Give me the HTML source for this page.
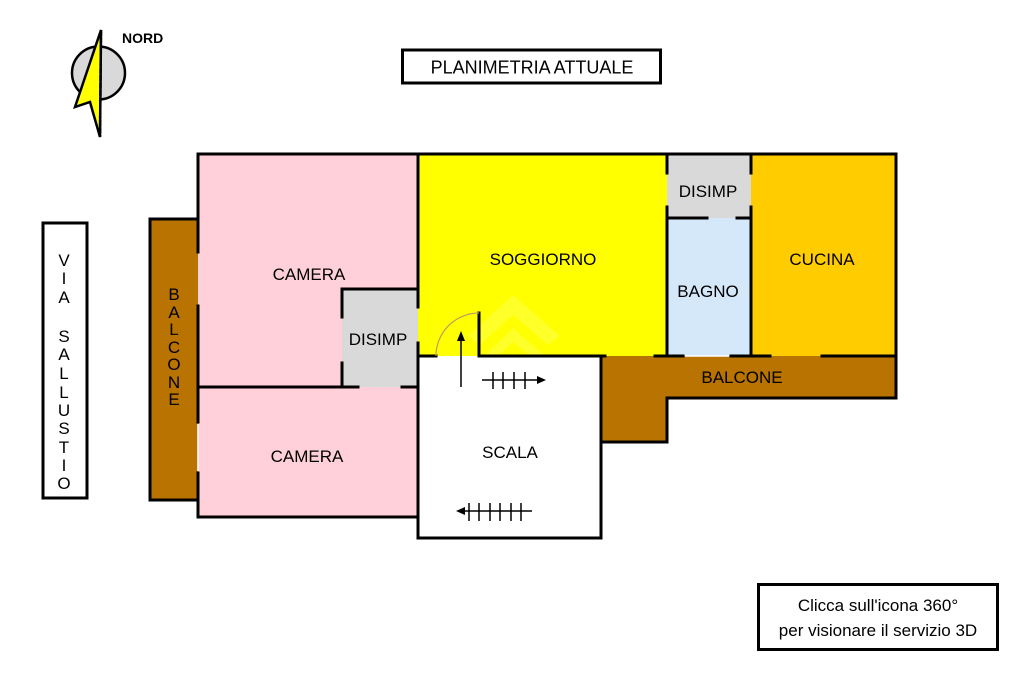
<!DOCTYPE html>
<html>
<head>
<meta charset="utf-8">
<style>
html,body{margin:0;padding:0;background:#fff;}
svg{display:block;}
text{font-family:"Liberation Sans",Arial,sans-serif;fill:#000;}
</style>
</head>
<body>
<svg width="1024" height="682" viewBox="0 0 1024 682" xmlns="http://www.w3.org/2000/svg">
<rect x="0" y="0" width="1024" height="682" fill="#fff"/>

<!-- Compass -->
<circle cx="98.5" cy="73" r="26.5" fill="#d9d9d9" stroke="#000" stroke-width="2.5"/>
<polygon points="101,30 75,107 90,102 100,137" fill="#ffff00" stroke="#000" stroke-width="2.5" stroke-linejoin="miter"/>
<line x1="101" y1="30" x2="100" y2="137" stroke="#000" stroke-width="2.5" stroke-dasharray="6,1.5"/>
<text x="122" y="43" font-size="14" font-weight="bold">NORD</text>

<!-- Title -->
<rect x="402.5" y="50" width="258" height="33" fill="#fff" stroke="#000" stroke-width="3"/>
<text x="532" y="73.5" font-size="18" text-anchor="middle">PLANIMETRIA ATTUALE</text>

<!-- Via Sallustio -->
<rect x="43" y="223" width="44" height="275" fill="#fff" stroke="#000" stroke-width="3"/>
<g font-size="17" text-anchor="middle">
<text x="64" y="266">V</text>
<text x="64" y="284">I</text>
<text x="64" y="303">A</text>
<text x="64" y="342">S</text>
<text x="64" y="360">A</text>
<text x="64" y="379">L</text>
<text x="64" y="398">L</text>
<text x="64" y="416">U</text>
<text x="64" y="434">S</text>
<text x="64" y="453">T</text>
<text x="64" y="471">I</text>
<text x="64" y="489">O</text>
</g>

<!-- Fills -->
<rect x="150" y="219" width="48" height="281" fill="#b87300"/>
<rect x="198" y="154" width="220" height="233" fill="#ffd0da"/>
<rect x="198" y="387" width="220" height="130" fill="#ffd0da"/>
<rect x="342" y="289" width="76" height="98" fill="#d9d9d9"/>
<rect x="418" y="154" width="249" height="202" fill="#ffff00"/>
<rect x="667" y="154" width="84" height="64" fill="#d9d9d9"/>
<rect x="667" y="218" width="84" height="138" fill="#d4e8fa"/>
<rect x="751" y="154" width="145" height="202" fill="#ffcc00"/>
<polygon points="601,356 896,356 896,398 667,398 667,442 601,442" fill="#b87300"/>
<rect x="418" y="356" width="183" height="182" fill="#fff"/>

<!-- watermark -->
<g opacity="0.2" fill="#ffffcc">
<polygon points="468,336 513,295 560,336 548,345 513,315 480,345"/>
<polygon points="484,356 513,328 545,356 530,356 513,342 498,356"/>
</g>

<!-- Walls -->
<g stroke="#000" stroke-width="3" fill="none" stroke-linecap="square">
<polyline points="198,219 150,219 150,500 198,500"/>
<line x1="198" y1="154" x2="896" y2="154"/>
<line x1="896" y1="154" x2="896" y2="398"/>
<line x1="198" y1="154" x2="198" y2="252"/>
<line x1="198" y1="306" x2="198" y2="422"/>
<line x1="198" y1="473" x2="198" y2="517"/>
<line x1="198" y1="387" x2="358" y2="387"/>
<line x1="402" y1="387" x2="418" y2="387"/>
<line x1="198" y1="517" x2="418" y2="517"/>
<line x1="418" y1="154" x2="418" y2="307"/>
<line x1="418" y1="343" x2="418" y2="538"/>
<line x1="342" y1="289" x2="418" y2="289"/>
<line x1="342" y1="289" x2="342" y2="317"/>
<line x1="342" y1="363" x2="342" y2="387"/>
<line x1="418" y1="356" x2="436" y2="356"/>
<line x1="479" y1="356" x2="605" y2="356"/>
<line x1="479" y1="313" x2="479" y2="356"/>
<line x1="418" y1="538" x2="601" y2="538"/>
<line x1="601" y1="356" x2="601" y2="538"/>
<line x1="655" y1="356" x2="683" y2="356"/>
<line x1="731" y1="356" x2="770" y2="356"/>
<line x1="822" y1="356" x2="896" y2="356"/>
<polyline points="896,398 667,398 667,442 601,442"/>
<line x1="667" y1="154" x2="667" y2="173"/>
<line x1="667" y1="207" x2="667" y2="356"/>
<line x1="751" y1="154" x2="751" y2="173"/>
<line x1="751" y1="207" x2="751" y2="356"/>
<line x1="667" y1="218" x2="707" y2="218"/>
<line x1="737" y1="218" x2="751" y2="218"/>
</g>
<line x1="198" y1="424" x2="198" y2="471" stroke="#fff" stroke-width="1.5"/>
<line x1="685" y1="356" x2="729" y2="356" stroke="#fff" stroke-width="1.5"/>

<!-- door arc -->
<path d="M436,356 A43,43 0 0 1 479,313" stroke="#b8a060" stroke-width="1.2" fill="none"/>

<!-- arrows -->
<g stroke="#000" stroke-width="1.5" fill="none">
<line x1="461" y1="387" x2="461" y2="338"/>
<line x1="482" y1="380" x2="540" y2="380"/>
<line x1="493" y1="372" x2="493" y2="389"/>
<line x1="503" y1="372" x2="503" y2="389"/>
<line x1="514" y1="372" x2="514" y2="389"/>
<line x1="525" y1="372" x2="525" y2="389"/>
<line x1="462" y1="511" x2="532" y2="511"/>
<line x1="469" y1="503" x2="469" y2="521"/>
<line x1="479" y1="503" x2="479" y2="521"/>
<line x1="490" y1="503" x2="490" y2="521"/>
<line x1="500" y1="503" x2="500" y2="521"/>
<line x1="511" y1="503" x2="511" y2="521"/>
<line x1="521" y1="503" x2="521" y2="521"/>
</g>
<polygon points="461,331 457,341 465,341" fill="#000"/>
<polygon points="546,380 537,376 537,384" fill="#000"/>
<polygon points="456,511 465,507 465,515" fill="#000"/>

<!-- Labels -->
<g font-size="17" text-anchor="middle">
<text x="309" y="280">CAMERA</text>
<text x="307" y="462">CAMERA</text>
<text x="378" y="345">DISIMP</text>
<text x="543" y="265">SOGGIORNO</text>
<text x="708" y="197">DISIMP</text>
<text x="708" y="297">BAGNO</text>
<text x="822" y="265">CUCINA</text>
<text x="742" y="383">BALCONE</text>
<text x="510" y="458">SCALA</text>
</g>
<g font-size="17" text-anchor="middle">
<text x="174" y="300">B</text>
<text x="174" y="318">A</text>
<text x="174" y="335">L</text>
<text x="174" y="353">C</text>
<text x="174" y="370">O</text>
<text x="174" y="388">N</text>
<text x="174" y="405">E</text>
</g>

<!-- Info box -->
<rect x="758.5" y="584.5" width="239" height="65" fill="#fff" stroke="#000" stroke-width="3"/>
<text x="878" y="611" font-size="17" text-anchor="middle">Clicca sull'icona 360°</text>
<text x="878" y="636" font-size="17" text-anchor="middle">per visionare il servizio 3D</text>
</svg>
</body>
</html>
